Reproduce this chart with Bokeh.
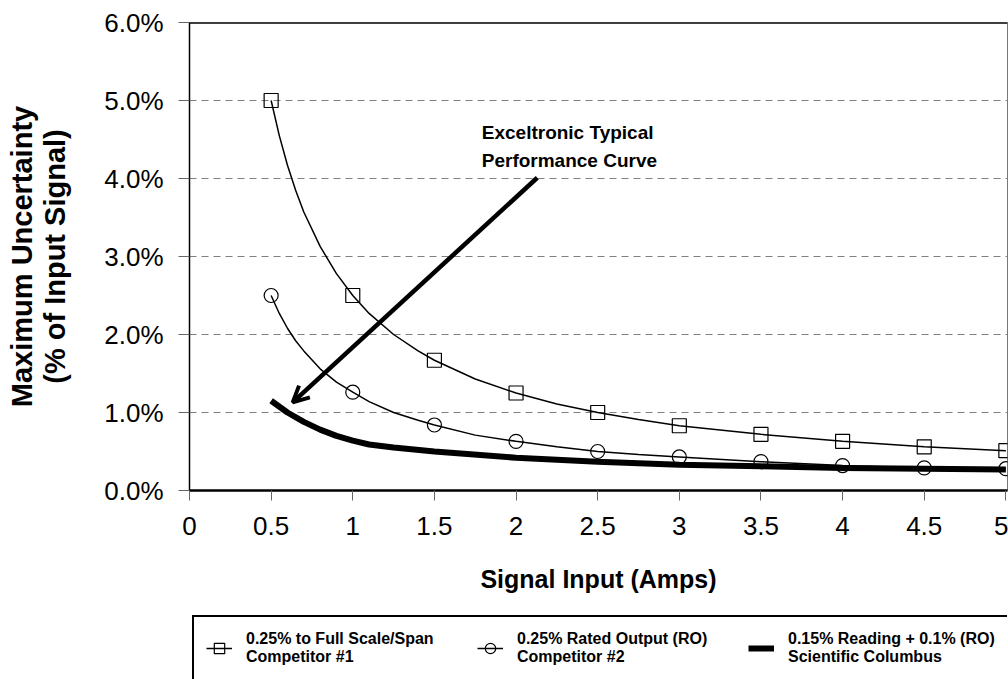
from bokeh.plotting import figure
from bokeh.layouts import column
from bokeh.models import (Legend, LegendItem, Label, Arrow, OpenHead, Span, ColumnDataSource,
                          FixedTicker, NumeralTickFormatter, PrintfTickFormatter)
from bokeh.embed import file_html
from bokeh.resources import INLINE

FONT = "Liberation Sans"

# ---- data ----
amps = [0.5, 1.0, 1.5, 2.0, 2.5, 3.0, 3.5, 4.0, 4.5, 5.0]
comp1_pct = [5.0, 2.5, 1.67, 1.25, 1.0, 0.83, 0.72, 0.63, 0.56, 0.51]
comp2_pct = [2.5, 1.26, 0.84, 0.63, 0.5, 0.43, 0.37, 0.32, 0.29, 0.28]

curve_amps = [0.5, 0.55, 0.6, 0.65, 0.7, 0.8, 0.9, 1.0, 1.1, 1.25, 1.4, 1.5,
              1.75, 2.0, 2.25, 2.5, 2.75, 3.0, 3.5, 4.0, 4.5, 5.0]
comp1_curve = [5.0, 4.55, 4.17, 3.85, 3.57, 3.13, 2.78, 2.5, 2.27, 2.0, 1.79, 1.67,
               1.43, 1.25, 1.11, 1.0, 0.91, 0.83, 0.72, 0.63, 0.56, 0.51]
comp2_curve = [2.5, 2.27, 2.08, 1.92, 1.79, 1.56, 1.39, 1.26, 1.14, 1.0, 0.9, 0.84,
               0.71, 0.63, 0.56, 0.5, 0.46, 0.43, 0.37, 0.32, 0.29, 0.28]

columbus_amps = [0.5, 0.6, 0.7, 0.8, 0.9, 1.0, 1.1, 1.25, 1.5, 2.0, 2.5, 3.0,
                 3.5, 4.0, 4.5, 5.0]
columbus_pct = [1.15, 1.0, 0.88, 0.78, 0.7, 0.64, 0.59, 0.55, 0.5, 0.42, 0.37,
                0.33, 0.31, 0.29, 0.28, 0.27]

x_ticks = [0, 0.5, 1, 1.5, 2, 2.5, 3, 3.5, 4, 4.5, 5]
y_ticks = [0, 1, 2, 3, 4, 5, 6]

legend_labels = ["0.25% to Full Scale/Span\nCompetitor #1",
                 "0.25% Rated Output (RO)\nCompetitor #2",
                 "0.15% Reading + 0.1% (RO)\nScientific Columbus"]
x_title = "Signal Input (Amps)"
y_title = "Maximum Uncertainty\n(% of Input Signal)"
note_lines = ["Exceltronic Typical", "Performance Curve"]

# annotation placement (data units)
note_x, note_y1, note_y2 = 1.79, 4.59, 4.23
arrow_from = (2.13, 4.01)
arrow_to = (0.632, 1.13)

src_c1 = ColumnDataSource(dict(x=curve_amps, y=comp1_curve))
src_p1 = ColumnDataSource(dict(x=amps, y=comp1_pct))
src_c2 = ColumnDataSource(dict(x=curve_amps, y=comp2_curve))
src_p2 = ColumnDataSource(dict(x=amps, y=comp2_pct))
src_c3 = ColumnDataSource(dict(x=columbus_amps, y=columbus_pct))

p = figure(width=1008, height=605, x_range=(0, 5.01), y_range=(0, 6),
           output_backend="svg", toolbar_location=None,
           min_border_left=189, min_border_right=1, min_border_top=22,
           min_border_bottom=115)
p.background_fill_color = "white"
p.border_fill_color = "white"
p.outline_line_color = "#777777"
p.outline_line_width = 1

# grid
p.xgrid.visible = False
p.ygrid.ticker = FixedTicker(ticks=y_ticks)
p.ygrid.grid_line_color = "#808080"
p.ygrid.grid_line_dash = "7 5"
p.ygrid.grid_line_width = 1

# axes
p.xaxis.ticker = FixedTicker(ticks=x_ticks)
p.xaxis.formatter = NumeralTickFormatter(format="0.[0]")
p.yaxis.ticker = FixedTicker(ticks=y_ticks)
p.yaxis.formatter = PrintfTickFormatter(format="%.1f%%")
for ax in (p.xaxis[0], p.yaxis[0]):
    ax.major_label_text_font = FONT
    ax.major_label_text_font_size = "26px"
    ax.major_label_text_color = "black"
    ax.major_tick_in = 0
    ax.major_tick_out = 10
    ax.major_tick_line_color = "#666666"
    ax.minor_tick_line_color = None
    ax.axis_label_text_font = FONT
    ax.axis_label_text_font_style = "bold"
    ax.axis_label_text_color = "black"
    ax.axis_line_color = "black"
p.xaxis.axis_line_width = 2.5
p.yaxis.axis_line_width = 1.5
p.yaxis.major_tick_out = 11
p.xaxis.major_label_standoff = 16
p.yaxis.major_label_standoff = 15
p.xaxis.axis_label = x_title
p.yaxis.axis_label = y_title
p.xaxis.axis_label_text_font_size = "25px"
p.yaxis.axis_label_text_font_size = "29px"
p.xaxis.axis_label_standoff = 27
p.yaxis.axis_label_standoff = 30
p.yaxis.axis_label_text_line_height = 1.05

# top border
p.add_layout(Span(location=6, dimension="width", line_color="black", line_width=2.5))

# series
l1 = p.line("x", "y", source=src_c1, line_color="black", line_width=1.5)
s1 = p.scatter("x", "y", source=src_p1, marker="square", size=14, fill_color=None,
               line_color="black", line_width=1.2)
l2 = p.line("x", "y", source=src_c2, line_color="black", line_width=1.5)
s2 = p.scatter("x", "y", source=src_p2, marker="circle", size=14, fill_color=None,
               line_color="black", line_width=1.2)
l3 = p.line("x", "y", source=src_c3, line_color="black", line_width=6)

# annotation
for txt, yy in zip(note_lines, (note_y1, note_y2)):
    p.add_layout(Label(x=note_x, y=yy, text=txt, text_font=FONT,
                       text_font_style="bold", text_font_size="19px",
                       text_baseline="middle", text_align="left", text_color="black"))
p.add_layout(Arrow(end=OpenHead(size=16, line_width=4, line_color="black"),
                   x_start=arrow_from[0], y_start=arrow_from[1],
                   x_end=arrow_to[0], y_end=arrow_to[1],
                   line_width=4.5, line_color="black"))

# ---- legend strip (separate figure below the chart; same data, out of view) ----
lg = figure(width=1008, height=74, x_range=(0, 1), y_range=(-2, -1),
            output_backend="svg", toolbar_location=None,
            x_axis_location=None, y_axis_location=None, min_border=0)
lg.grid.visible = False
lg.outline_line_color = None
lg.background_fill_color = "white"
lg.border_fill_color = "white"
k1 = lg.line("x", "y", source=src_c1, line_color="black", line_width=1.5)
k1m = lg.scatter("x", "y", source=src_p1, marker="square", size=14, fill_color=None,
                 line_color="black", line_width=1.2)
k2 = lg.line("x", "y", source=src_c2, line_color="black", line_width=1.5)
k2m = lg.scatter("x", "y", source=src_p2, marker="circle", size=14, fill_color=None,
                 line_color="black", line_width=1.2)
k3 = lg.line("x", "y", source=src_c3, line_color="black", line_width=6)

legend = Legend(items=[LegendItem(label=legend_labels[0], renderers=[k1, k1m]),
                       LegendItem(label=legend_labels[1], renderers=[k2, k2m]),
                       LegendItem(label=legend_labels[2], renderers=[k3])],
                orientation="horizontal", location=(3, -2))
legend.border_line_color = "black"
legend.border_line_alpha = 1.0
legend.border_line_width = 2.5
legend.background_fill_color = "white"
legend.background_fill_alpha = 1
legend.label_text_font = FONT
legend.label_text_font_style = "bold"
legend.label_text_font_size = "16px"
legend.label_text_color = "black"
legend.label_text_line_height = 1.2
legend.label_standoff = 14
legend.glyph_width = 26
legend.glyph_height = 38
legend.spacing = 26
legend.padding = 12
legend.margin = 0
legend.label_width = 205
lg.add_layout(legend)

open("out.html", "w").write(file_html(column(p, lg, spacing=0), INLINE))
